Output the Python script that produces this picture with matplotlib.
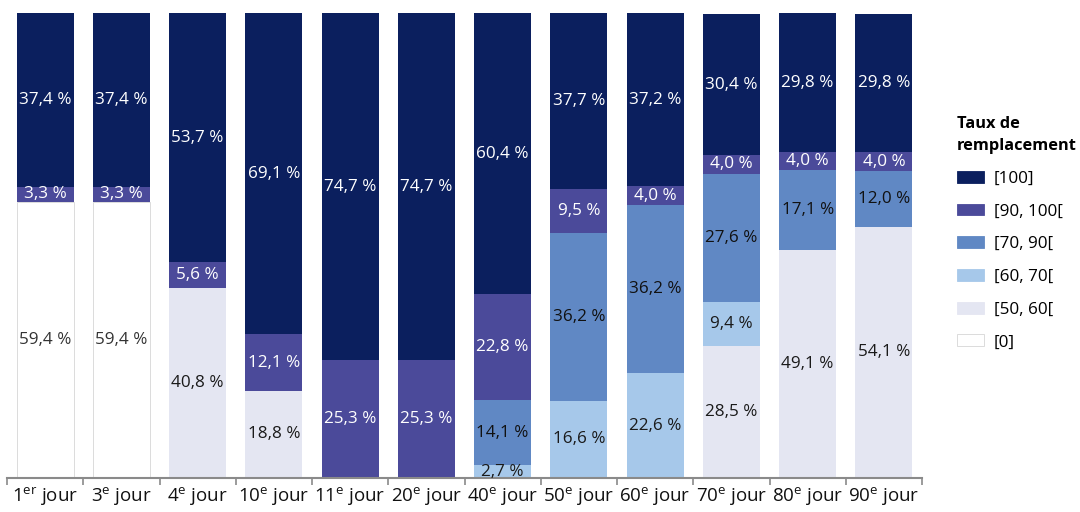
import numpy as np
import matplotlib
matplotlib.use("Agg")
import matplotlib.pyplot as plt
from matplotlib.patches import Patch

plt.rcParams['font.family'] = ['Open Sans', 'DejaVu Sans']
plt.rcParams['mathtext.fontset'] = 'custom'
plt.rcParams['mathtext.rm'] = 'Open Sans'
plt.rcParams['mathtext.it'] = 'Open Sans'

# days (number, ordinal suffix)
days = [("1", "er"), ("3", "e"), ("4", "e"), ("10", "e"), ("11", "e"), ("20", "e"),
        ("40", "e"), ("50", "e"), ("60", "e"), ("70", "e"), ("80", "e"), ("90", "e")]

# share of people per replacement rate bracket, bottom to top
rate_0 = [59.4, 59.4, 0, 0, 0, 0, 0, 0, 0, 0, 0, 0]
rate_50_60 = [0, 0, 40.8, 18.8, 0, 0, 0, 0, 0, 28.5, 49.1, 54.1]
rate_60_70 = [0, 0, 0, 0, 0, 0, 2.7, 16.6, 22.6, 9.4, 0, 0]
rate_70_90 = [0, 0, 0, 0, 0, 0, 14.1, 36.2, 36.2, 27.6, 17.1, 12.0]
rate_90_100 = [3.3, 3.3, 5.6, 12.1, 25.3, 25.3, 22.8, 9.5, 4.0, 4.0, 4.0, 4.0]
rate_100 = [37.4, 37.4, 53.7, 69.1, 74.7, 74.7, 60.4, 37.7, 37.2, 30.4, 29.8, 29.8]

series = [
    ("[0]", rate_0, "#ffffff", "#333333"),
    ("[50, 60[", rate_50_60, "#e4e6f2", "#1a1a1a"),
    ("[60, 70[", rate_60_70, "#a6c8ea", "#1a1a1a"),
    ("[70, 90[", rate_70_90, "#6088c4", "#111111"),
    ("[90, 100[", rate_90_100, "#4b4a9a", "#ffffff"),
    ("[100]", rate_100, "#0b1f5e", "#ffffff"),
]

fig = plt.figure(figsize=(10.8, 5.12), dpi=100)
ax = fig.add_axes([7 / 1080, 34 / 512, 915 / 1080, 465 / 512])

x = np.arange(len(days))
bottom = np.zeros(len(days))
handles = []
for name, vals, color, tcolor in series:
    vals = np.array(vals, dtype=float)
    edge = "#d6d6d6" if color == "#ffffff" else color
    ax.bar(x, vals, width=0.75, bottom=bottom, color=color,
           edgecolor=edge, linewidth=0.6 if color == "#ffffff" else 0)
    for xi, v, b in zip(x, vals, bottom):
        if v > 0:
            ax.text(xi, b + v / 2, f"{v:.1f}".replace(".", ",") + " %",
                    ha="center", va="center", fontsize=12.3, color=tcolor)
    bottom += vals
    handles.append(Patch(facecolor=color,
                         edgecolor="#d6d6d6" if color == "#ffffff" else color,
                         linewidth=0.6, label=name))

ax.set_xlim(-0.5, len(days) - 0.5)
ax.set_ylim(0, 100.1)
ax.set_yticks([])
for s in ["top", "right", "left"]:
    ax.spines[s].set_visible(False)
ax.spines["bottom"].set_color("#8a8a8a")
ax.spines["bottom"].set_linewidth(1.5)

ax.set_xticks(x)
ax.set_xticklabels([n + r"$^{\mathrm{" + suf + r"}}$ jour" for n, suf in days],
                   fontsize=13.5, color="#111111")
ax.tick_params(axis="x", which="major", length=0, pad=5)
ax.set_xticks(np.arange(-0.5, len(days)), minor=True)
ax.tick_params(axis="x", which="minor", length=5, width=1.2, color="#8a8a8a",
               direction="out")

leg = fig.legend(handles=handles[::-1], loc="upper left",
                 bbox_to_anchor=(951 / 1080, 1 - 110 / 512),
                 frameon=False, fontsize=12.3, handlelength=1.58, handleheight=0.7,
                 labelspacing=0.98, handletextpad=0.58, borderpad=0.35,
                 borderaxespad=0,
                 title="Taux de\nremplacement", alignment="left",
                 title_fontproperties={"weight": "bold", "size": 11.8})
leg.get_title().set_linespacing(1.5)

fig.savefig("out.png", dpi=100)
